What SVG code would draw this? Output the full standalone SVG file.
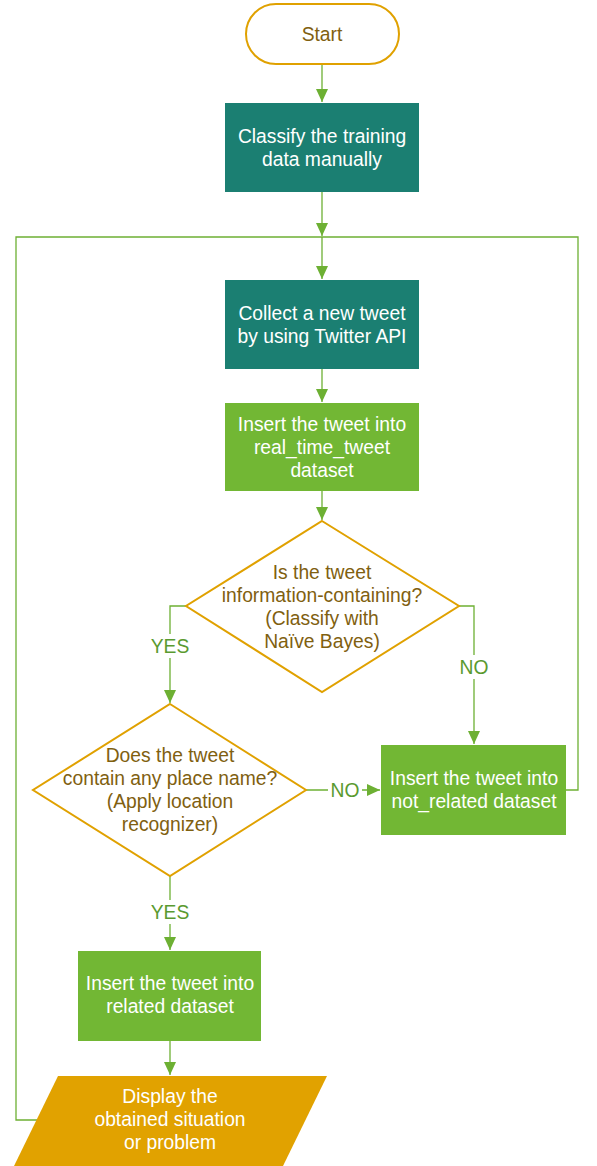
<svg xmlns="http://www.w3.org/2000/svg" width="597" height="1166" viewBox="0 0 597 1166">
<defs>
<marker id="ah" markerWidth="14" markerHeight="12" refX="13" refY="6" orient="auto" markerUnits="userSpaceOnUse">
<path d="M0,0 L13,6 L0,12 Z" fill="#6DB033"/>
</marker>
<style>
.t{font-family:"Liberation Sans",Arial,sans-serif;font-size:19.3px;text-anchor:middle}
.w{fill:#ffffff}
.d{fill:#7F6010}
.l{fill:#5A9A30}
.c{fill:none;stroke:#6DB033;stroke-width:1.3}
.teal{fill:#1B7F72}
.grn{fill:#72B734}
</style>
</defs>
<rect width="597" height="1166" fill="#ffffff"/>
<g id="connectors">
<path class="c" d="M322,64 V102" marker-end="url(#ah)"/>
<path class="c" d="M322,192 V236" marker-end="url(#ah)"/>
<path class="c" d="M322,237 V279" marker-end="url(#ah)"/>
<path class="c" d="M566,790 H578 V237 H16 V1120 H37"/>
<path class="c" d="M322,369 V402" marker-end="url(#ah)"/>
<path class="c" d="M322,491 V520" marker-end="url(#ah)"/>
<path class="c" d="M186,606 H170 V703" marker-end="url(#ah)"/>
<path class="c" d="M459,606 H474 V744" marker-end="url(#ah)"/>
<path class="c" d="M306,790 H380" marker-end="url(#ah)"/>
<path class="c" d="M170,876 V950" marker-end="url(#ah)"/>
<path class="c" d="M170,1041 V1075" marker-end="url(#ah)"/>
<rect x="148" y="634" width="44" height="24" fill="#ffffff"/>
<text class="t l" x="170" y="653">YES</text>
<rect x="457" y="655" width="34" height="24" fill="#ffffff"/>
<text class="t l" x="474" y="674">NO</text>
<rect x="328" y="778" width="34" height="24" fill="#ffffff"/>
<text class="t l" x="345" y="797">NO</text>
<rect x="148" y="900" width="44" height="24" fill="#ffffff"/>
<text class="t l" x="170" y="919">YES</text>
</g>
<g id="start">
<rect x="246" y="4" width="153" height="60" rx="30" fill="#ffffff" stroke="#E0A100" stroke-width="2"/>
<text class="t d" x="322" y="41">Start</text>
</g>
<g id="classify">
<rect class="teal" x="225" y="103" width="194" height="89"/>
<text class="t w" x="322" y="143">Classify the training</text>
<text class="t w" x="322" y="166">data manually</text>
</g>
<g id="collect">
<rect class="teal" x="225" y="280" width="194" height="89"/>
<text class="t w" x="322" y="320">Collect a new tweet</text>
<text class="t w" x="322" y="343">by using Twitter API</text>
</g>
<g id="insert-realtime">
<rect class="grn" x="225" y="403" width="194" height="88"/>
<text class="t w" x="322" y="431">Insert the tweet into</text>
<text class="t w" x="322" y="454">real_time_tweet</text>
<text class="t w" x="322" y="477">dataset</text>
</g>
<g id="decision-info">
<path d="M322,521 L459,606 L322,692 L186,606 Z" fill="#ffffff" stroke="#E0A100" stroke-width="2"/>
<text class="t d" x="322" y="579">Is the tweet</text>
<text class="t d" x="322" y="602">information-containing?</text>
<text class="t d" x="322" y="625">(Classify with</text>
<text class="t d" x="322" y="648">Naïve Bayes)</text>
</g>
<g id="decision-place">
<path d="M170,704 L306,790 L170,876 L33,790 Z" fill="#ffffff" stroke="#E0A100" stroke-width="2"/>
<text class="t d" x="170" y="762">Does the tweet</text>
<text class="t d" x="170" y="785">contain any place name?</text>
<text class="t d" x="170" y="808">(Apply location</text>
<text class="t d" x="170" y="831">recognizer)</text>
</g>
<g id="insert-not-related">
<rect class="grn" x="381" y="745" width="185" height="90"/>
<text class="t w" x="474" y="785">Insert the tweet into</text>
<text class="t w" x="474" y="808">not_related dataset</text>
</g>
<g id="insert-related">
<rect class="grn" x="78" y="951" width="183" height="90"/>
<text class="t w" x="170" y="990">Insert the tweet into</text>
<text class="t w" x="170" y="1013">related dataset</text>
</g>
<g id="display">
<path d="M58,1076 H327 L283,1166 H14 Z" fill="#E1A200"/>
<text class="t w" x="170" y="1103">Display the</text>
<text class="t w" x="170" y="1126">obtained situation</text>
<text class="t w" x="170" y="1149">or problem</text>
</g>
</svg>
